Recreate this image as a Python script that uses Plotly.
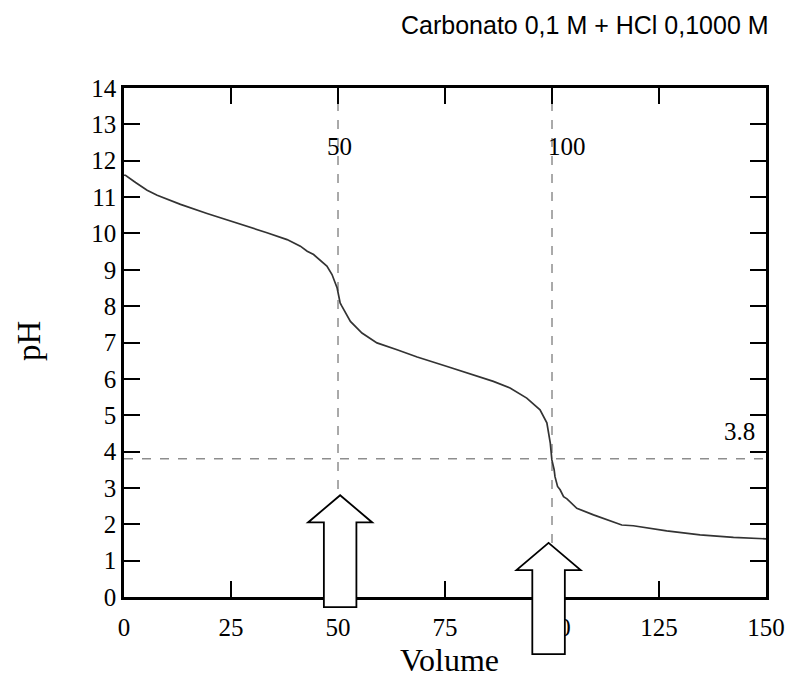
import plotly.graph_objects as go

# Titration curve
volume = [0, 0.35, 2.7, 5.4, 7.75, 13.2, 19.4, 26.4, 33.4, 38.1, 41.2, 42.8, 44.3, 47.4, 48.6, 49.8,
          50.5, 50.9, 52.9, 55.6, 59.1, 63.8, 68.5, 75.5, 80.9, 86.3, 90.2, 94.1, 97.2, 98.8,
          99.6, 99.97, 100.5, 100.7, 101.3, 101.9, 102.7, 103.5, 105.8, 109.7, 116.3, 119.0,
          126.8, 134.6, 142.4, 150]
ph = [11.6, 11.6, 11.40, 11.19, 11.05, 10.80, 10.55, 10.29, 10.02, 9.83, 9.65, 9.51, 9.42, 9.10, 8.87, 8.50,
      8.09, 8.0, 7.58, 7.26, 6.99, 6.80, 6.60, 6.34, 6.14, 5.93, 5.75, 5.47, 5.15, 4.79,
      4.23, 3.77, 3.50, 3.31, 3.04, 2.95, 2.76, 2.70, 2.44, 2.26, 1.98, 1.96,
      1.82, 1.71, 1.64, 1.60]

x_ticks = [0, 25, 50, 75, 100, 125, 150]
y_ticks = list(range(0, 15))
x_range = [0, 150]
y_range = [0, 14]

equiv_volumes = [50, 100]
equiv_labels = ["50", "100"]
ph_marker = 3.8

# block arrows: centre volume, tip pH, head-base pH, bottom pH
arrow_center = [50.5, 99.2]
arrow_tip = [2.8, 1.49]
arrow_base = [2.05, 0.74]
arrow_bottom = [-0.28, -1.57]
shaft_half = 3.8
wing_half = 7.5

title_text = "Carbonato 0,1 M + HCl 0,1000 M"
x_title = "Volume"
y_title = "pH"

serif = "Liberation Serif, Times New Roman, serif"
sans = "Liberation Sans, Arial, sans-serif"

# page offset (body margin) and figure geometry
OFF = 8
W, H = 788, 669
ml, mr, mt, mb = 116, 30, 80, 80
pw, ph_ = W - ml - mr, H - mt - mb


def vx(x):  # viewport pixel -> paper x
    return (x - OFF - ml) / pw


def vy(y):  # viewport pixel -> paper y
    return (H - (y - OFF) - mb) / ph_


def px(v):
    return (v - x_range[0]) / (x_range[1] - x_range[0])


def py(v):
    return (v - y_range[0]) / (y_range[1] - y_range[0])


fig = go.Figure()
fig.add_trace(go.Scatter(x=volume, y=ph, mode="lines",
                         line=dict(color="#333333", width=1.7), showlegend=False,
                         hoverinfo="skip"))

shapes = []
for v in equiv_volumes:
    shapes.append(dict(type="line", xref="x", yref="paper", x0=v, x1=v, y0=0, y1=1,
                       line=dict(color="#555555", width=1, dash="dash"), layer="below"))
shapes.append(dict(type="line", xref="paper", yref="y", x0=0, x1=1, y0=ph_marker, y1=ph_marker,
                   line=dict(color="#555555", width=1, dash="dash"), layer="below"))

for c, t, b, bot in zip(arrow_center, arrow_tip, arrow_base, arrow_bottom):
    pts = [(c, t), (c + wing_half, b), (c + shaft_half, b), (c + shaft_half, bot),
           (c - shaft_half, bot), (c - shaft_half, b), (c - wing_half, b)]
    path = "M " + " L ".join(f"{px(a):.5f},{py(q):.5f}" for a, q in pts) + " Z"
    shapes.append(dict(type="path", xref="paper", yref="paper", path=path,
                       fillcolor="white", line=dict(color="black", width=1.8), layer="above"))

ann_font = dict(family=serif, size=25, color="black")
annotations = [
    dict(x=equiv_volumes[0] - 2.6, y=12.4, xref="x", yref="y", text=equiv_labels[0],
         showarrow=False, xanchor="left", yanchor="middle", font=ann_font, xshift=-2),
    dict(x=equiv_volumes[1] - 0.9, y=12.4, xref="x", yref="y", text=equiv_labels[1],
         showarrow=False, xanchor="left", yanchor="middle", font=ann_font, xshift=-2),
    dict(x=147.5, y=4.55, xref="x", yref="y", text=str(ph_marker),
         showarrow=False, xanchor="right", yanchor="middle", font=ann_font, xshift=2),
    dict(x=vx(771), y=vy(25), xref="paper", yref="paper", text=title_text, showarrow=False,
         xanchor="right", yanchor="middle", font=dict(family=sans, size=25, color="black")),
    dict(x=vx(450), y=vy(660), xref="paper", yref="paper", text=x_title, showarrow=False,
         xanchor="center", yanchor="middle", font=dict(family=serif, size=32, color="black")),
    dict(x=vx(29), y=vy(341), xref="paper", yref="paper", text=y_title, showarrow=False,
         textangle=-90, xanchor="center", yanchor="middle",
         font=dict(family=serif, size=33, color="black")),
]

axis_common = dict(ticks="inside", ticklen=16, tickwidth=2, tickcolor="black",
                   showline=True, linecolor="black", linewidth=2.5, mirror="ticks",
                   showgrid=False, zeroline=False,
                   tickfont=dict(family=serif, size=25, color="black"))

fig.update_layout(
    width=W, height=H,
    margin=dict(l=ml, r=mr, t=mt, b=mb),
    paper_bgcolor="white", plot_bgcolor="white",
    shapes=shapes, annotations=annotations,
    xaxis=dict(range=x_range, tickvals=x_ticks, ticklabelstandoff=6, **axis_common),
    yaxis=dict(range=y_range, tickvals=y_ticks, **axis_common),
)

fig.write_html("out.html")
